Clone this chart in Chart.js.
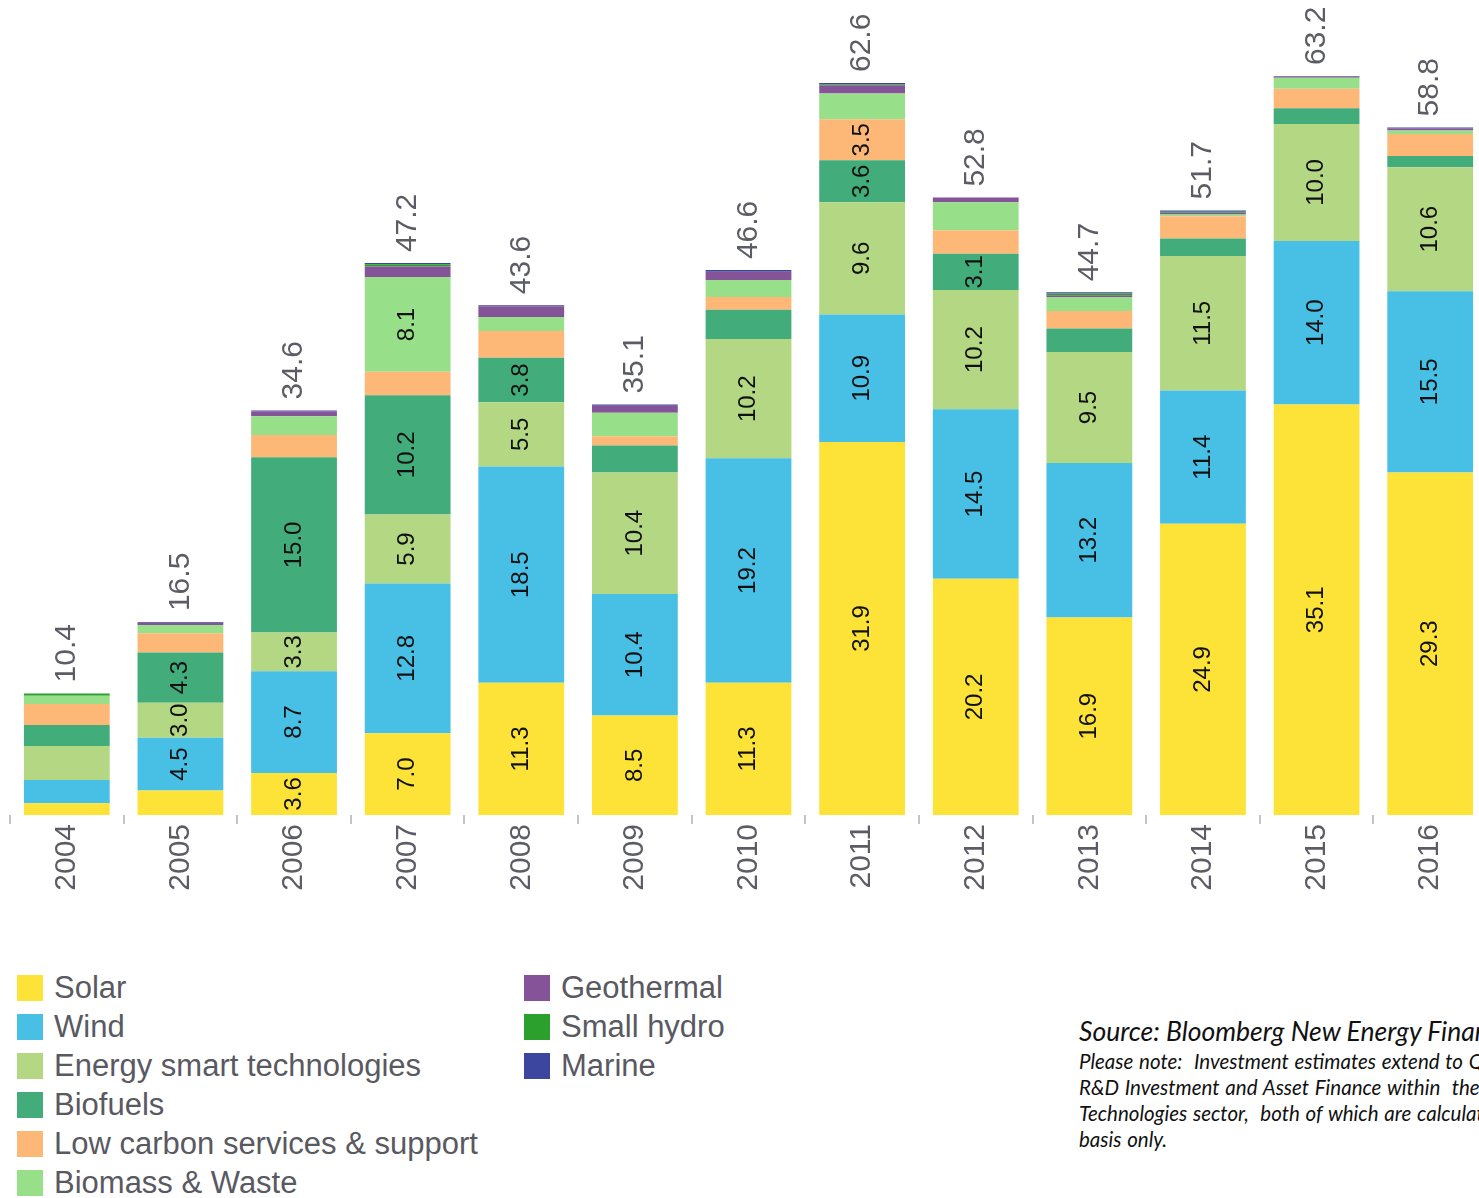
<!DOCTYPE html>
<html>
<head>
<meta charset="utf-8">
<script src="https://cdn.jsdelivr.net/npm/chart.js@4.4.0/dist/chart.umd.min.js"></script>
<style>
  html, body { margin: 0; padding: 0; background: #fff; }
  body { width: 1479px; height: 1198px; overflow: hidden; position: relative; font-family: "Liberation Sans", Arial, sans-serif; }
  #chart { position: absolute; left: 0; top: 0; }
  .legend-item { position: absolute; height: 30px; white-space: nowrap; color: #595962; font-size: 31px; line-height: 30px; }
  .legend-item span.box { position: absolute; left: 0; top: 1px; width: 26px; height: 26px; }
  .legend-item span.txt { position: absolute; left: 37px; top: -1px; }
  #note { position: absolute; left: 1079px; top: 1014px; white-space: nowrap; font-family: Lato, "Open Sans", sans-serif; font-style: italic; color: #111; }
  #note .src { font-size: 26.5px; line-height: 34px; }
  #note .line { font-size: 20.5px; line-height: 26px; word-spacing: 1px; }
</style>
</head>
<body>
<canvas id="chart" width="1500" height="935"></canvas>
<div id="legend"></div>
<div id="note">
  <div class="src">Source: Bloomberg New Energy Finance</div>
  <div class="line">Please note: &nbsp;Investment estimates extend to Q3 2016 and include</div>
  <div class="line">R&amp;D Investment and Asset Finance within &nbsp;the Energy Smart</div>
  <div class="line">Technologies sector, &nbsp;both of which are calculated on an annual</div>
  <div class="line">basis only.</div>
</div>
<script>
// Investment by sector, $bn
const years = ['2004', '2005', '2006', '2007', '2008', '2009', '2010', '2011', '2012', '2013', '2014', '2015', '2016'];
const totals = [10.4, 16.5, 34.6, 47.2, 43.6, 35.1, 46.6, 62.6, 52.8, 44.7, 51.7, 63.2, 58.8];

const solar      = [1.0, 2.1, 3.6, 7.0, 11.3, 8.5, 11.3, 31.9, 20.2, 16.9, 24.9, 35.1, 29.3];
const wind       = [2.0, 4.5, 8.7, 12.8, 18.5, 10.4, 19.2, 10.9, 14.5, 13.2, 11.4, 14.0, 15.5];
const energySmart = [2.9, 3.0, 3.3, 5.9, 5.5, 10.4, 10.2, 9.6, 10.2, 9.5, 11.5, 10.0, 10.6];
const biofuels   = [1.8, 4.3, 15.0, 10.2, 3.8, 2.3, 2.5, 3.6, 3.1, 2.0, 1.5, 1.35, 0.95];
const lowCarbon  = [1.8, 1.65, 1.9, 2.0, 2.3, 0.8, 1.1, 3.5, 2.0, 1.5, 1.9, 1.65, 1.9];
const biomass    = [0.7, 0.7, 1.6, 8.1, 1.2, 2.0, 1.45, 2.2, 2.4, 1.2, 0.15, 0.95, 0.3];
const geothermal = [0.0, 0.2, 0.4, 0.9, 0.9, 0.6, 0.7, 0.7, 0.4, 0.15, 0.15, 0.1, 0.15];
const smallHydro = [0.2, 0.0, 0.0, 0.2, 0.0, 0.0, 0.0, 0.1, 0.0, 0.15, 0.1, 0.0, 0.0];
const marine     = [0.0, 0.05, 0.1, 0.1, 0.1, 0.1, 0.15, 0.1, 0.0, 0.1, 0.1, 0.05, 0.1];

const seriesNames = ['Solar', 'Wind', 'Energy smart technologies', 'Biofuels', 'Low carbon services & support',
  'Biomass & Waste', 'Geothermal', 'Small hydro', 'Marine'];
const seriesData = [solar, wind, energySmart, biofuels, lowCarbon, biomass, geothermal, smallHydro, marine];
const seriesColors = ['#fde238', '#48bfe4', '#b3d783', '#43ac7b', '#fdb878', '#98df8a', '#845398', '#2ca02c', '#3c469e'];

const FONT = '"Liberation Sans", Arial, sans-serif';

// values inside the segments + totals on top
const barLabels = {
  id: 'barLabels',
  afterDatasetsDraw(chart) {
    const ctx = chart.ctx;
    chart.data.datasets.forEach((ds, i) => {
      chart.getDatasetMeta(i).data.forEach((bar, j) => {
        const v = ds.data[j];
        if (v < 3) return;
        ctx.save();
        ctx.translate(bar.x, (bar.y + bar.base) / 2);
        ctx.rotate(-Math.PI / 2);
        ctx.font = '24px ' + FONT;
        ctx.fillStyle = '#111';
        ctx.textAlign = 'center';
        ctx.textBaseline = 'middle';
        ctx.fillText(v.toFixed(1), 0, 0);
        ctx.restore();
      });
    });
    const xs = chart.scales.x, ys = chart.scales.y;
    totals.forEach((t, j) => {
      ctx.save();
      ctx.translate(xs.getPixelForValue(j), ys.getPixelForValue(t) - 11);
      ctx.rotate(-Math.PI / 2);
      ctx.font = '30px ' + FONT;
      ctx.fillStyle = '#5c5c66';
      ctx.textAlign = 'left';
      ctx.textBaseline = 'middle';
      ctx.fillText(t.toFixed(1), 0, 0);
      ctx.restore();
    });
  }
};

new Chart(document.getElementById('chart').getContext('2d'), {
  type: 'bar',
  data: {
    labels: years,
    datasets: seriesNames.map((name, i) => ({
      label: name,
      data: seriesData[i],
      backgroundColor: seriesColors[i],
      borderWidth: 0,
      categoryPercentage: 1.0,
      barPercentage: 0.755
    }))
  },
  options: {
    responsive: false,
    animation: false,
    devicePixelRatio: 1,
    layout: { padding: { left: 10, right: 13, top: 0, bottom: 0 } },
    plugins: { legend: { display: false }, tooltip: { enabled: false } },
    scales: {
      x: {
        stacked: true,
        afterFit: (scale) => { scale.height = 120; },
        border: { display: false },
        grid: { drawOnChartArea: false, drawTicks: true, tickLength: 9, color: '#c4c4c4', lineWidth: 2 },
        ticks: {
          minRotation: 90, maxRotation: 90, autoSkip: false, padding: 0,
          color: '#5c5c66', font: { family: FONT, size: 30 }
        }
      },
      y: { stacked: true, display: false, min: 0, max: 69.7 }
    }
  },
  plugins: [barLabels]
});

// legend, two columns like the original
const legend = document.getElementById('legend');
seriesNames.forEach((name, i) => {
  const col = i < 6 ? 0 : 1;
  const row = i < 6 ? i : i - 6;
  const item = document.createElement('div');
  item.className = 'legend-item';
  item.style.left = (col === 0 ? 17 : 524) + 'px';
  item.style.top = (974 + row * 39) + 'px';
  item.innerHTML = '<span class="box" style="background:' + seriesColors[i] + '"></span><span class="txt"></span>';
  item.querySelector('.txt').textContent = name;
  legend.appendChild(item);
});
</script>
</body>
</html>
